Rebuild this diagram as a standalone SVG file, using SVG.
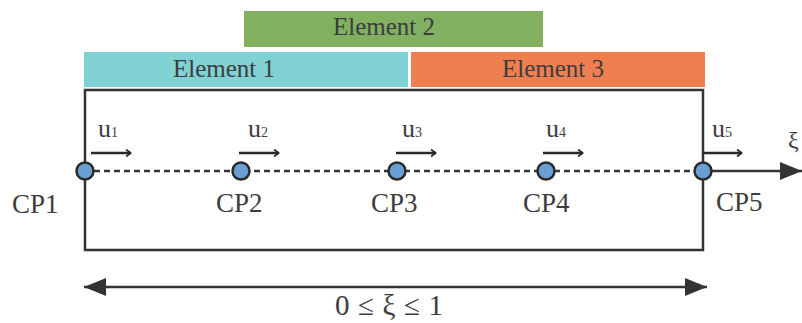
<svg xmlns="http://www.w3.org/2000/svg" width="802" height="323" viewBox="0 0 802 323">
<defs>
<style>
text{font-family:"Liberation Serif","Times New Roman",serif;fill:#3d3d3d}
.el{font-size:25px}
.cp{font-size:27px}
.u{font-size:26px}
.sub{font-size:14px}
.ln{stroke:#333;stroke-width:2.5;fill:none}
.cpt{fill:#6a9fd6;stroke:#2a2a2a;stroke-width:2.5}
.ua{stroke:#2a2a2a;stroke-width:2.5;fill:none}
</style>
<marker id="big" viewBox="0 0 22 18" refX="22" refY="9" markerWidth="22" markerHeight="18" markerUnits="userSpaceOnUse" orient="auto-start-reverse">
<path d="M0,0 L22,9 L0,18 z" fill="#333"/>
</marker>
<marker id="chev" viewBox="0 0 10 12" refX="9" refY="6" markerWidth="7" markerHeight="12" markerUnits="userSpaceOnUse" orient="auto">
<path d="M2,1 L8.5,6 L2,11" fill="none" stroke="#2a2a2a" stroke-width="2.5"/>
</marker>
</defs>
<rect width="802" height="323" fill="#ffffff"/>
<g id="element2"><rect x="244" y="11" width="299" height="36" fill="#80b060"/><text class="el" x="333" y="35">Element 2</text></g>
<g id="element1"><rect x="84" y="52" width="324" height="35" fill="#80d2d5"/><text class="el" x="173" y="77">Element 1</text></g>
<g id="element3"><rect x="411" y="52" width="294" height="35" fill="#ef7f50"/><text class="el" x="502" y="77">Element 3</text></g>
<g id="connectors">
<path class="ln" d="M85,90 H703 V250 H85 Z"/>
<line x1="94" y1="171" x2="694" y2="171" stroke="#333" stroke-width="2.5" stroke-dasharray="6,4"/>
<line x1="712" y1="171" x2="802" y2="171" stroke="#333" stroke-width="2.5" marker-end="url(#big)"/>
<line x1="84" y1="287" x2="707" y2="287" stroke="#333" stroke-width="2.5" marker-start="url(#big)" marker-end="url(#big)"/>
<line class="ua" x1="91" y1="153" x2="131" y2="153" marker-end="url(#chev)"/>
<line class="ua" x1="239" y1="153" x2="279" y2="153" marker-end="url(#chev)"/>
<line class="ua" x1="396" y1="153" x2="436" y2="153" marker-end="url(#chev)"/>
<line class="ua" x1="543" y1="153" x2="583" y2="153" marker-end="url(#chev)"/>
<line class="ua" x1="702" y1="153" x2="742" y2="153" marker-end="url(#chev)"/>
</g>
<g id="cp1"><circle class="cpt" cx="85" cy="171" r="8.5"/><text class="cp" x="12" y="213">CP1</text><text class="u" x="98" y="137">u<tspan class="sub">1</tspan></text></g>
<g id="cp2"><circle class="cpt" cx="241" cy="171" r="8.5"/><text class="cp" x="216" y="212">CP2</text><text class="u" x="248" y="137">u<tspan class="sub">2</tspan></text></g>
<g id="cp3"><circle class="cpt" cx="397" cy="171" r="8.5"/><text class="cp" x="371" y="212">CP3</text><text class="u" x="402" y="137">u<tspan class="sub">3</tspan></text></g>
<g id="cp4"><circle class="cpt" cx="546" cy="171" r="8.5"/><text class="cp" x="523" y="212">CP4</text><text class="u" x="546" y="137">u<tspan class="sub">4</tspan></text></g>
<g id="cp5"><circle class="cpt" cx="703" cy="171" r="8.5"/><text class="cp" x="716" y="211">CP5</text><text class="u" x="712" y="137">u<tspan class="sub">5</tspan></text></g>
<text x="788" y="148" font-size="24">ξ</text>
<text x="335" y="315" font-size="29" textLength="108">0 ≤ ξ ≤ 1</text>
</svg>
